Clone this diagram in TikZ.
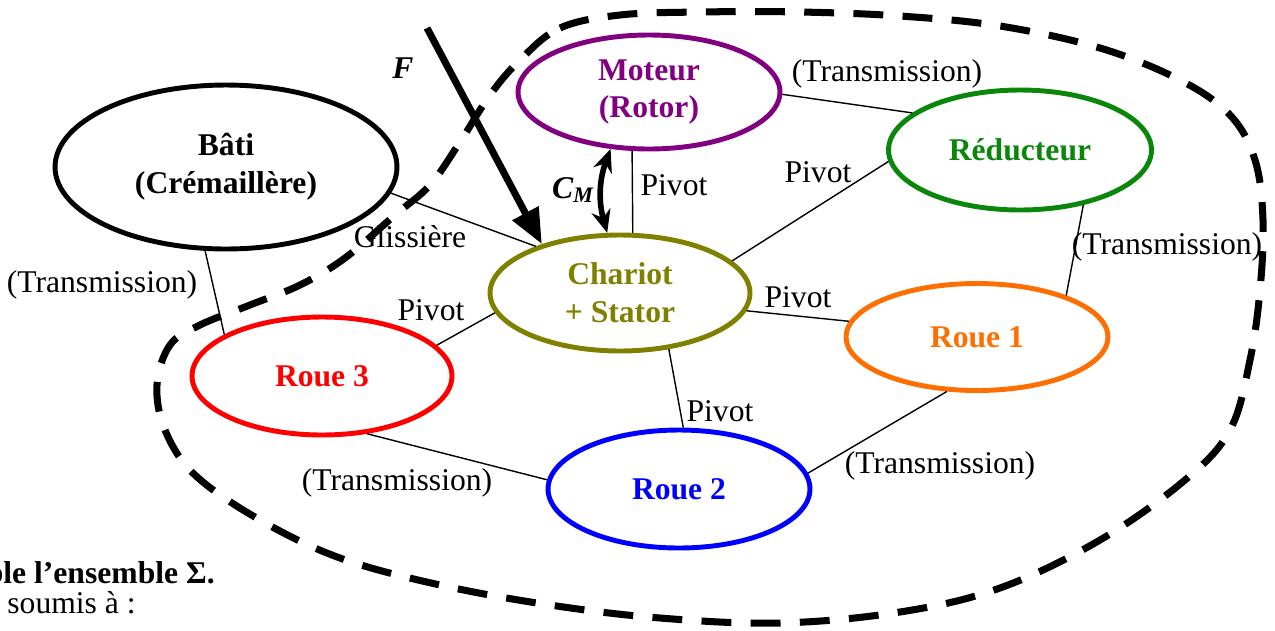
\documentclass[tikz,border=0pt]{standalone}
\usepackage{fontspec}
\setmainfont{Liberation Serif}
\usetikzlibrary{arrows.meta,shapes.geometric}
\definecolor{cpurple}{RGB}{128,0,128}
\definecolor{cgreen}{RGB}{10,135,10}
\definecolor{colive}{RGB}{128,128,0}
\definecolor{corange}{RGB}{255,110,0}
\definecolor{cred}{RGB}{255,0,0}
\definecolor{cblue}{RGB}{0,0,255}
\tikzset{
  part/.style={ellipse,draw,line width=2.8pt,inner sep=0pt,align=center,font=\fontsize{18}{21.5}\selectfont\bfseries},
  link/.style={line width=0.8pt},
  lbl/.style={inner sep=0pt,font=\fontsize{18}{21.5}\selectfont},
  boundary/.style={line width=4pt,dash pattern=on 17pt off 11pt},
}
\begin{document}
\begin{tikzpicture}[x=0.02cm,y=-0.02cm]
\useasboundingbox (0,0) rectangle (1275,630);
% dashed boundary
\draw[boundary] plot[smooth cycle,tension=0.6] coordinates {
(520,60) (560,28) (620,15) (700,12) (800,12) (900,16) (1000,26) (1100,48) (1180,80) (1230,115) (1255,160) (1263,220) (1260,290) (1250,360) (1230,430) (1185,480) (1100,540) (1000,588) (900,612) (780,623) (660,618) (550,605) (440,585) (340,558) (260,520) (195,475) (165,430) (157,385) (170,345) (200,325) (250,305) (300,285) (345,258) (395,215) (430,185) (460,142) (490,95)};
% parts
\node[part,minimum width=6.84cm,minimum height=3.28cm] (bati) at (226,167) {Bâti\\(Crémaillère)};
\node[part,draw=cpurple,text=cpurple,minimum width=5.24cm,minimum height=2.28cm] (moteur) at (649,92) {Moteur\\(Rotor)};
\node[part,draw=cgreen,text=cgreen,minimum width=5.26cm,minimum height=2.4cm] (reducteur) at (1020,150) {Réducteur};
\node[part,draw=colive,text=colive,minimum width=5.2cm,minimum height=2.32cm] (chariot) at (620,293) {Chariot\\+ Stator};
\node[part,draw=corange,text=corange,minimum width=5.24cm,minimum height=2.14cm] (roue1) at (977,337) {Roue 1};
\node[part,draw=cred,text=cred,minimum width=5.2cm,minimum height=2.36cm] (roue3) at (322,376) {Roue 3};
\node[part,draw=cblue,text=cblue,minimum width=5.24cm,minimum height=2.36cm] (roue2) at (679,489) {Roue 2};
% connectors
\draw[link] (bati.-9.7) -- (chariot.151.7);
\draw[link] (bati.-104.5) -- (roue3.157);
\draw[link] (moteur.-106.6) -- (chariot.78.3);
\draw[link] (moteur.-1.3) -- (reducteur.161);
\draw[link] (reducteur.-175) -- (chariot.16);
\draw[link] (reducteur.-41.3) -- (roue1.25.2);
\draw[link] (chariot.-8.3) -- (roue1.173.6);
\draw[link] (chariot.-171.2) -- (roue3.15.7);
\draw[link] (chariot.-49.2) -- (roue2.86);
\draw[link] (roue3.-52.8) -- (roue2.176);
\draw[link] (roue1.-119.3) -- (roue2.7.6);
% labels
\node[lbl] (lglis) at (410,237) {Glissière};
\node[lbl] (lt1) at (102,285) {(Transmission)};
\node[lbl] (lp1) at (674,185) {Pivot};
\node[lbl] (lt2) at (887,74) {(Transmission)};
\node[lbl] (lp2) at (818,172) {Pivot};
\node[lbl] (lt3) at (1167,247) {(Transmission)};
\node[lbl] (lp3) at (798,297) {Pivot};
\node[lbl] (lp4) at (431,310) {Pivot};
\node[lbl] (lp5) at (720,411) {Pivot};
\node[lbl] (lt4) at (397,483) {(Transmission)};
\node[lbl] (lt5) at (940,466) {(Transmission)};
% force F
\coordinate (fstart) at (427,28);
\draw[line width=4pt,-{Triangle[length=20pt,width=16pt]}] (fstart) -- (chariot.148.6);
\node[lbl,font=\fontsize{18}{21.5}\selectfont\bfseries\itshape] (lF) at (403,68) {F};
% couple C_M
\draw[line width=3.2pt,{Stealth[length=13pt,width=11pt]}-{Stealth[length=13pt,width=11pt]}] (moteur.-124) to[bend right=18] (chariot.102);
\node[lbl,font=\fontsize{18}{21.5}\selectfont\bfseries\itshape] (lC) at (573,190) {C\textsubscript{M}};
% cut-off text
\node[lbl,anchor=base east,font=\fontsize{18}{21.5}\selectfont\bfseries] (tx1) at (215,583) {ble l’ensemble Σ.};
\node[lbl,anchor=base east] (tx2) at (136,613) {t soumis à :};
\end{tikzpicture}
\end{document}
